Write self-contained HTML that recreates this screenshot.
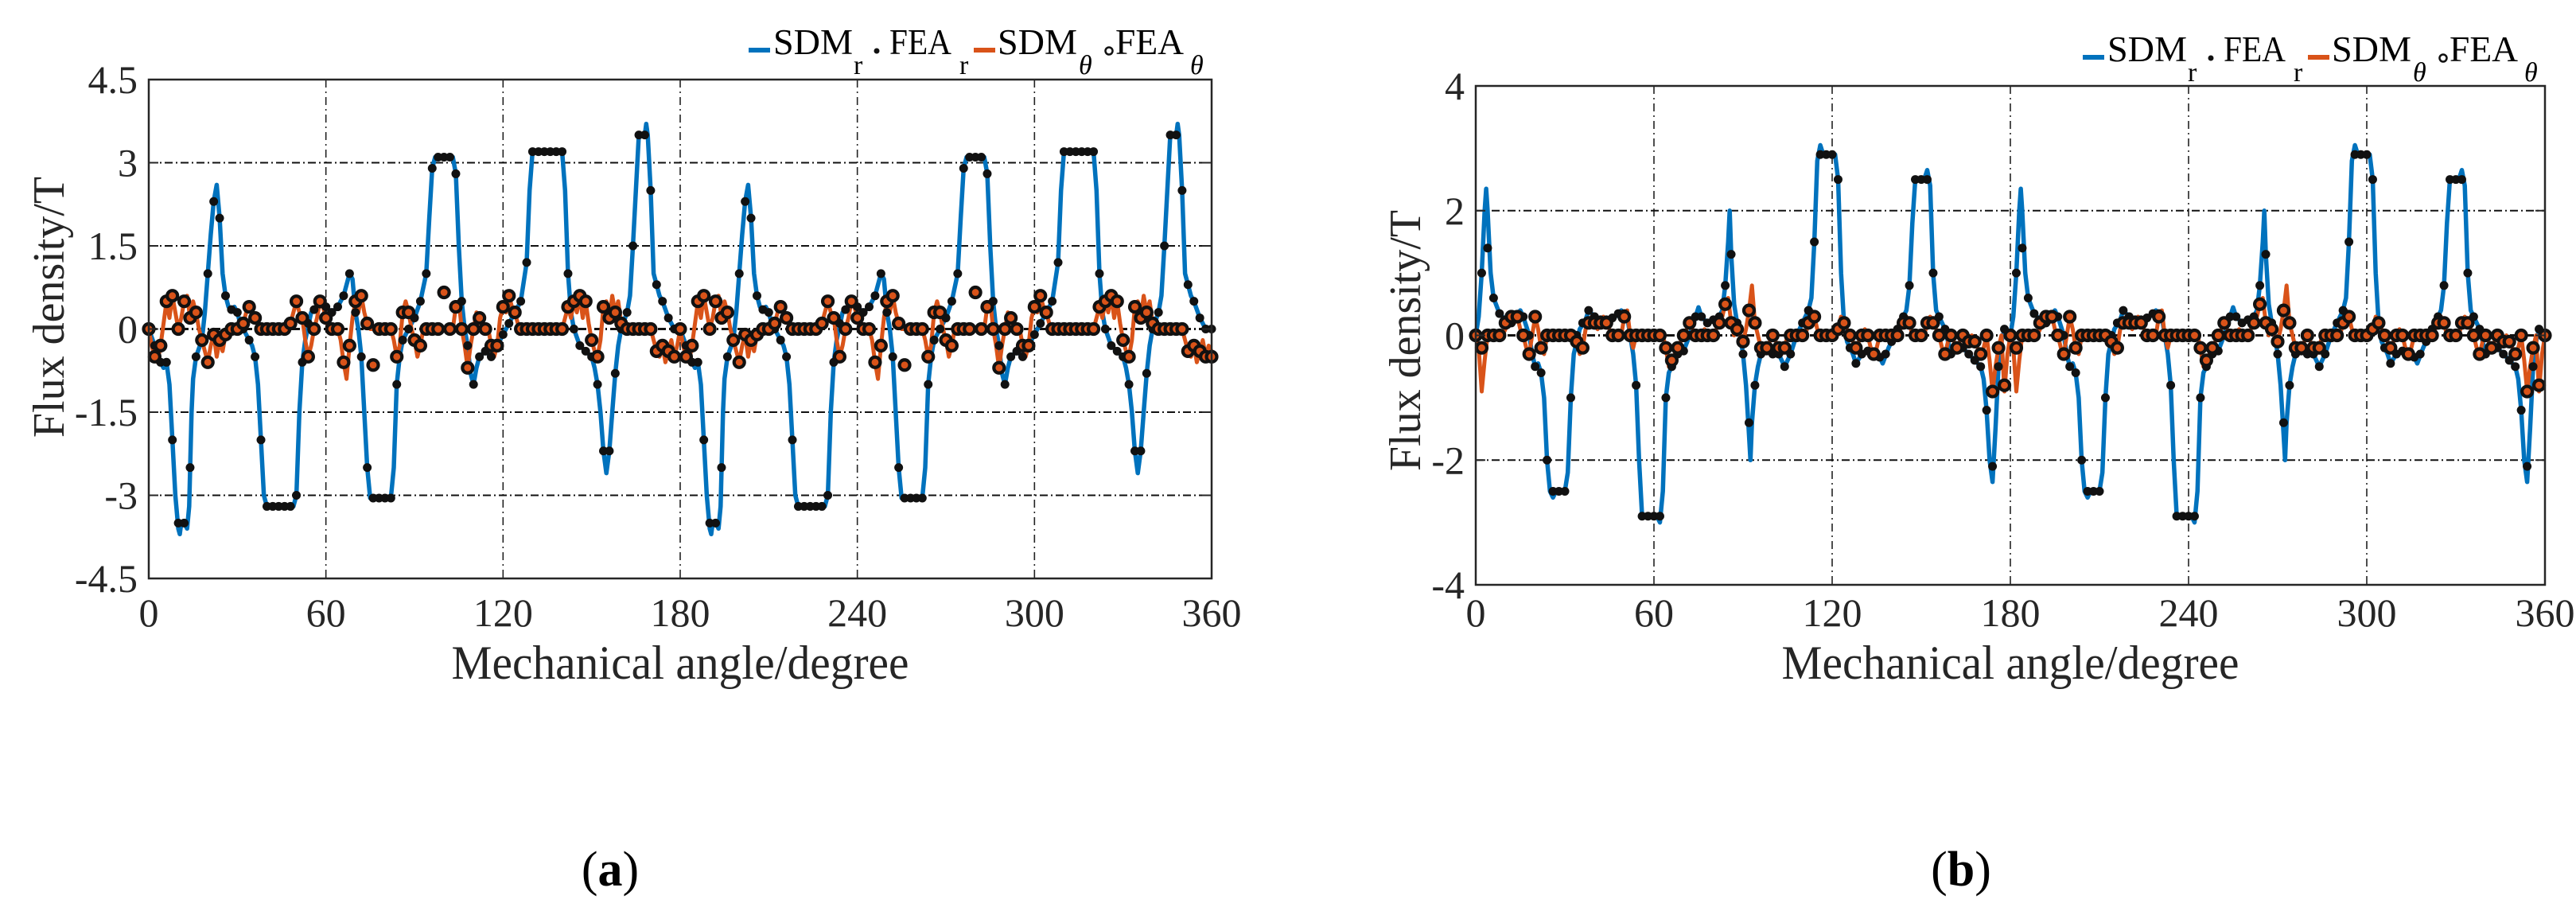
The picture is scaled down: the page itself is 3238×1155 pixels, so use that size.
<!DOCTYPE html>
<html><head><meta charset="utf-8">
<style>
html,body{margin:0;padding:0;background:#fff;}
svg{display:block;font-family:"Liberation Serif",serif;}
</style></head>
<body>
<svg id="fig" width="3238" height="1155" viewBox="0 0 3238 1155" xmlns="http://www.w3.org/2000/svg">
<rect x="0" y="0" width="3238" height="1155" fill="#fff"/>
</svg>
<script>
// ===== Panel (a) data =====
const aSdmRAngles = [0,2,4,5,6,7,8,9,10,10.5,11,12,13,13.7,14.5,15,16,18,19,20,21,22,23,24,25,26,27,28,29,30,31,32,33,35,36,37,38,39,40,49,50,51,52,53,55,57,59,60,62,64,66,68,69,70,71,72,73,74,75,82,83,84,85,86,88,90,92,94,95,96,97,103,104,105,106,107,108,109,110,111,112,114,116,118,120,122,124,126,128,129,130,140,141,142,143,144,146,148,150,151,152,153,154,155,156,157,158,159,160,162,163,164,165,166,168,168.5,169,170,171,172,173,174,176,178,
180,182,184,185,186,187,188,189,190,190.5,191,192,193,193.7,194.5,195,196,198,199,200,201,202,203,204,205,206,207,208,209,210,211,212,213,215,216,217,218,219,220,229,230,231,232,233,235,237,239,240,242,244,246,248,249,250,251,252,253,254,255,262,263,264,265,266,268,270,272,274,275,276,277,283,284,285,286,287,288,289,290,291,292,294,296,298,300,302,304,306,308,309,310,320,321,322,323,324,326,328,330,331,332,333,334,335,336,337,338,339,340,342,343,344,345,346,348,348.5,349,350,351,352,353,354,356,358,360];
const aSdmRValues = [0,-0.3,-0.6,-0.7,-0.6,-1.0,-2.0,-3.0,-3.6,-3.7,-3.5,-3.5,-3.6,-3.2,-1.5,-0.9,-0.5,-0.2,0.3,1.0,1.7,2.3,2.6,2.0,1.0,0.6,0.4,0.35,0.4,0.3,0.1,0,-0.1,-0.3,-0.5,-1.0,-2.0,-3.0,-3.2,-3.2,-3.0,-1.5,-0.6,-0.2,0.3,0.4,0.5,0.4,0.3,0.4,0.6,1.0,0.9,0.3,0,-0.5,-1.5,-2.5,-3.05,-3.05,-2.5,-1.0,-0.5,-0.2,0,0.2,0.5,1.0,2.0,2.9,3.1,3.1,2.8,1.5,0.5,0,-0.3,-0.8,-1.0,-0.7,-0.5,-0.4,-0.5,-0.3,-0.1,0.1,0.3,0.5,1.2,2.5,3.2,3.2,2.5,1.0,0.3,0,-0.3,-0.4,-0.5,-0.7,-1.0,-1.5,-2.2,-2.6,-2.2,-1.5,-0.8,-0.3,0,0.3,0.6,1.5,2.5,3.5,3.5,3.7,3.5,2.5,1.0,0.8,0.6,0.5,0.2,0,
0,-0.3,-0.6,-0.7,-0.6,-1.0,-2.0,-3.0,-3.6,-3.7,-3.5,-3.5,-3.6,-3.2,-1.5,-0.9,-0.5,-0.2,0.3,1.0,1.7,2.3,2.6,2.0,1.0,0.6,0.4,0.35,0.4,0.3,0.1,0,-0.1,-0.3,-0.5,-1.0,-2.0,-3.0,-3.2,-3.2,-3.0,-1.5,-0.6,-0.2,0.3,0.4,0.5,0.4,0.3,0.4,0.6,1.0,0.9,0.3,0,-0.5,-1.5,-2.5,-3.05,-3.05,-2.5,-1.0,-0.5,-0.2,0,0.2,0.5,1.0,2.0,2.9,3.1,3.1,2.8,1.5,0.5,0,-0.3,-0.8,-1.0,-0.7,-0.5,-0.4,-0.5,-0.3,-0.1,0.1,0.3,0.5,1.2,2.5,3.2,3.2,2.5,1.0,0.3,0,-0.3,-0.4,-0.5,-0.7,-1.0,-1.5,-2.2,-2.6,-2.2,-1.5,-0.8,-0.3,0,0.3,0.6,1.5,2.5,3.5,3.5,3.7,3.5,2.5,1.0,0.8,0.6,0.5,0.2,0,0];
const aFeaRStep = 2;
const aFeaRValues = [0,-0.3,-0.6,-0.6,-2.0,-3.5,-3.5,-2.5,-0.5,-0.2,1.0,2.3,2.0,0.6,0.35,0.3,0,-0.2,-0.5,-2.0,-3.2,-3.2,-3.2,-3.2,-3.2,-3.0,-0.6,0.1,0.35,0.45,0.4,0.3,0.4,0.6,1.0,0.3,-0.5,-2.5,-3.05,-3.05,-3.05,-3.05,-1.0,-0.2,0,0.2,0.5,1.0,2.9,3.1,3.1,3.1,2.8,0.5,-0.3,-1.0,-0.5,-0.4,-0.5,-0.3,-0.1,0.1,0.3,0.5,1.2,3.2,3.2,3.2,3.2,3.2,3.2,1.0,0,-0.3,-0.4,-0.5,-1.0,-2.2,-2.2,-0.8,0,0.3,1.5,3.5,3.5,2.5,0.8,0.5,0.2,0,
0,-0.3,-0.6,-0.6,-2.0,-3.5,-3.5,-2.5,-0.5,-0.2,1.0,2.3,2.0,0.6,0.35,0.3,0,-0.2,-0.5,-2.0,-3.2,-3.2,-3.2,-3.2,-3.2,-3.0,-0.6,0.1,0.35,0.45,0.4,0.3,0.4,0.6,1.0,0.3,-0.5,-2.5,-3.05,-3.05,-3.05,-3.05,-1.0,-0.2,0,0.2,0.5,1.0,2.9,3.1,3.1,3.1,2.8,0.5,-0.3,-1.0,-0.5,-0.4,-0.5,-0.3,-0.1,0.1,0.3,0.5,1.2,3.2,3.2,3.2,3.2,3.2,3.2,1.0,0,-0.3,-0.4,-0.5,-1.0,-2.2,-2.2,-0.8,0,0.3,1.5,3.5,3.5,2.5,0.8,0.5,0.2,0,0];
const aSdmTStep = 1;
const aSdmTValues = [0,-0.3,-0.5,-0.6,-0.3,0.1,0.5,0.2,0.6,0.3,0,0.2,0.5,0.6,0.2,0.5,0.3,0,-0.2,-0.4,-0.6,-0.3,-0.1,-0.5,-0.2,-0.4,-0.1,0,0,0,0,0,0.1,0.3,0.4,0.3,0.2,0.1,0,0,0,0,0,0,0,0,0,0,0.1,0.3,0.5,0.3,0.2,-0.2,-0.5,-0.3,0,0.2,0.5,0.4,0.2,0,0,0,0,-0.2,-0.6,-0.9,-0.3,0.2,0.5,0.3,0.6,0.3,0.1,0,0,0,0,0,0,0,0,-0.2,-0.5,-0.3,0.3,0.5,0.3,0,-0.2,-0.5,-0.3,0,0,0,0,0,0,0,0,0,0,0,0.4,0.5,0,-0.3,-0.7,-0.3,0,0.3,0.2,0,0,0,-0.3,-0.5,-0.3,0.2,0.4,0.3,0.6,0.4,0.3,0.1,0,0,0,0,0,0,0,0,0,0,0,0,0,0,0,0.2,0.4,0.2,0.5,0.3,0.6,0.2,0.5,0.1,-0.2,-0.4,-0.5,-0.2,0.4,0.5,0.2,0.6,0.3,0.5,0.1,0,0,0,0,0,0,0,0,0,0,-0.2,-0.4,-0.5,-0.3,-0.6,-0.4,-0.2,-0.5,-0.3,
0,-0.3,-0.5,-0.6,-0.3,0.1,0.5,0.2,0.6,0.3,0,0.2,0.5,0.6,0.2,0.5,0.3,0,-0.2,-0.4,-0.6,-0.3,-0.1,-0.5,-0.2,-0.4,-0.1,0,0,0,0,0,0.1,0.3,0.4,0.3,0.2,0.1,0,0,0,0,0,0,0,0,0,0,0.1,0.3,0.5,0.3,0.2,-0.2,-0.5,-0.3,0,0.2,0.5,0.4,0.2,0,0,0,0,-0.2,-0.6,-0.9,-0.3,0.2,0.5,0.3,0.6,0.3,0.1,0,0,0,0,0,0,0,0,-0.2,-0.5,-0.3,0.3,0.5,0.3,0,-0.2,-0.5,-0.3,0,0,0,0,0,0,0,0,0,0,0,0.4,0.5,0,-0.3,-0.7,-0.3,0,0.3,0.2,0,0,0,-0.3,-0.5,-0.3,0.2,0.4,0.3,0.6,0.4,0.3,0.1,0,0,0,0,0,0,0,0,0,0,0,0,0,0,0,0.2,0.4,0.2,0.5,0.3,0.6,0.2,0.5,0.1,-0.2,-0.4,-0.5,-0.2,0.4,0.5,0.2,0.6,0.3,0.5,0.1,0,0,0,0,0,0,0,0,0,0,-0.2,-0.4,-0.5,-0.3,-0.6,-0.4,-0.2,-0.5,-0.3,-0.4];
const aFeaTStep = 2;
const aFeaTValues = [0,-0.5,-0.3,0.5,0.6,0,0.5,0.2,0.3,-0.2,-0.6,-0.1,-0.2,-0.1,0,0,0.1,0.4,0.2,0,0,0,0,0,0.1,0.5,0.2,-0.5,0,0.5,0.2,0,0,-0.6,-0.3,0.5,0.6,0.1,-0.65,0,0,0,-0.5,0.3,0.3,-0.2,-0.3,0,0,0,0.66,0,0.4,0,-0.7,0,0.2,0,-0.3,-0.3,0.4,0.6,0.3,0,0,0,0,0,0,0,0,0.4,0.5,0.6,0.5,-0.2,-0.5,0.4,0.2,0.3,0.1,0,0,0,0,0,-0.4,-0.3,-0.4,-0.5,
0,-0.5,-0.3,0.5,0.6,0,0.5,0.2,0.3,-0.2,-0.6,-0.1,-0.2,-0.1,0,0,0.1,0.4,0.2,0,0,0,0,0,0.1,0.5,0.2,-0.5,0,0.5,0.2,0,0,-0.6,-0.3,0.5,0.6,0.1,-0.65,0,0,0,-0.5,0.3,0.3,-0.2,-0.3,0,0,0,0.66,0,0.4,0,-0.7,0,0.2,0,-0.3,-0.3,0.4,0.6,0.3,0,0,0,0,0,0,0,0,0.4,0.5,0.6,0.5,-0.2,-0.5,0.4,0.2,0.3,0.1,0,0,0,0,0,-0.4,-0.3,-0.4,-0.5,-0.5];
const aYTicks = [-4.5,-3,-1.5,0,1.5,3,4.5];
const aYTickLabels = ["-4.5","-3","-1.5","0","1.5","3","4.5"];

// ===== Panel (b) data =====
const bSdmRAngles = [0,1,2,3,3.5,4,5,6,8,10,12,14,15,16,18,19,20,21,22,23,24,25,26,27,30,31,32,33,35,37,38,39,41,44,47,49,51,52,53,54,55,56,58,61,62,63,64,65,66,68,70,72,74,75,76,78,80,82,83,84,85,85.5,86,87,88,89,90,91,92,92.5,93,94,95,96,98,100,102,104,106,108,110,112,113,114,115,116,117,121,122,123,124,125,127,128,130,132,134,136,137,139,141,143,145,146,147,148,151,152,153,154,155,156,158,159,160,162,164,166,168,170,171,172,173,174,175,176,177,178,
180,181,182,183,183.5,184,185,186,188,190,192,194,195,196,198,199,200,201,202,203,204,205,206,207,210,211,212,213,215,217,218,219,221,224,227,229,231,232,233,234,235,236,238,241,242,243,244,245,246,248,250,252,254,255,256,258,260,262,263,264,265,265.5,266,267,268,269,270,271,272,272.5,273,274,275,276,278,280,282,284,286,288,290,292,293,294,295,296,297,301,302,303,304,305,307,308,310,312,314,316,317,319,321,323,325,326,327,328,331,332,333,334,335,336,338,339,340,342,344,346,348,350,351,352,353,354,355,356,357,358,360];
const bSdmRValues = [0,0.3,1.0,2.0,2.35,2.0,1.0,0.6,0.35,0.25,0.2,0.3,0.4,0.3,0,-0.3,-0.5,-0.45,-0.6,-1.0,-2.0,-2.5,-2.6,-2.5,-2.5,-2.2,-1.0,-0.3,0.1,0.25,0.4,0.35,0.25,0.25,0.3,0.4,0.3,0,-0.3,-0.8,-2.0,-2.9,-2.9,-2.9,-3.0,-2.5,-1.0,-0.6,-0.5,-0.3,-0.25,0,0.3,0.45,0.3,0.2,0.25,0.3,0.4,0.8,1.5,2.0,1.3,0.5,0.2,0,-0.3,-0.8,-1.6,-2.0,-1.4,-0.8,-0.5,-0.3,-0.25,-0.3,-0.3,-0.5,-0.3,0,0.2,0.4,0.6,1.5,2.8,3.05,2.9,2.9,2.5,1.0,0.2,-0.1,-0.3,-0.45,-0.3,-0.25,-0.3,-0.35,-0.45,-0.2,0,0.2,0.4,0.8,1.8,2.5,2.5,2.65,2.4,1.0,0.4,0.3,0.1,-0.1,-0.3,-0.2,-0.2,-0.3,-0.4,-0.5,-0.7,-1.2,-2.0,-2.35,-1.5,-0.5,-0.1,0.1,
0,0.3,1.0,2.0,2.35,2.0,1.0,0.6,0.35,0.25,0.2,0.3,0.4,0.3,0,-0.3,-0.5,-0.45,-0.6,-1.0,-2.0,-2.5,-2.6,-2.5,-2.5,-2.2,-1.0,-0.3,0.1,0.25,0.4,0.35,0.25,0.25,0.3,0.4,0.3,0,-0.3,-0.8,-2.0,-2.9,-2.9,-2.9,-3.0,-2.5,-1.0,-0.6,-0.5,-0.3,-0.25,0,0.3,0.45,0.3,0.2,0.25,0.3,0.4,0.8,1.5,2.0,1.3,0.5,0.2,0,-0.3,-0.8,-1.6,-2.0,-1.4,-0.8,-0.5,-0.3,-0.25,-0.3,-0.3,-0.5,-0.3,0,0.2,0.4,0.6,1.5,2.8,3.05,2.9,2.9,2.5,1.0,0.2,-0.1,-0.3,-0.45,-0.3,-0.25,-0.3,-0.35,-0.45,-0.2,0,0.2,0.4,0.8,1.8,2.5,2.5,2.65,2.4,1.0,0.4,0.3,0.1,-0.1,-0.3,-0.2,-0.2,-0.3,-0.4,-0.5,-0.7,-1.2,-2.0,-2.35,-1.5,-0.5,-0.1,0.1,0];
const bFeaRStep = 2;
const bFeaRValues = [0,1.0,1.4,0.6,0.35,0.25,0.2,0.3,0.3,0,-0.5,-0.6,-2.0,-2.5,-2.5,-2.5,-1.0,0,0.2,0.4,0.3,0.25,0.25,0.28,0.35,0.35,0,-0.8,-2.9,-2.9,-2.9,-2.9,-1.0,-0.5,-0.3,-0.25,0,0.3,0.3,0.2,0.25,0.3,0.8,1.3,0.2,-0.3,-1.4,-0.8,-0.3,-0.25,-0.3,-0.3,-0.5,-0.3,0,0.2,0.4,1.5,2.9,2.9,2.9,2.5,0.2,-0.2,-0.45,-0.3,-0.25,-0.3,-0.35,-0.3,-0.1,0.1,0.3,0.8,2.5,2.5,2.5,1.0,0.3,0.1,-0.3,-0.2,-0.2,-0.3,-0.4,-0.5,-1.2,-2.1,-0.5,0.1,
0,1.0,1.4,0.6,0.35,0.25,0.2,0.3,0.3,0,-0.5,-0.6,-2.0,-2.5,-2.5,-2.5,-1.0,0,0.2,0.4,0.3,0.25,0.25,0.28,0.35,0.35,0,-0.8,-2.9,-2.9,-2.9,-2.9,-1.0,-0.5,-0.3,-0.25,0,0.3,0.3,0.2,0.25,0.3,0.8,1.3,0.2,-0.3,-1.4,-0.8,-0.3,-0.25,-0.3,-0.3,-0.5,-0.3,0,0.2,0.4,1.5,2.9,2.9,2.9,2.5,0.2,-0.2,-0.45,-0.3,-0.25,-0.3,-0.35,-0.3,-0.1,0.1,0.3,0.8,2.5,2.5,2.5,1.0,0.3,0.1,-0.3,-0.2,-0.2,-0.3,-0.4,-0.5,-1.2,-2.1,-0.5,0.1,0];
const bSdmTStep = 1;
const bSdmTValues = [0,-0.2,-0.9,-0.4,0,0,0,0,0,0,0.1,0.2,0.3,0.2,0.3,0.1,0,-0.2,-0.3,0,0.3,0.1,-0.2,-0.3,0,0,0,0,0,0,0,0,0,0,-0.1,-0.3,-0.2,0.1,0.2,0.3,0.2,0.1,0.2,0.3,0.2,0.1,0,0,0,0,0.3,0.4,0,-0.2,0,0,0,0,0,0,0,0,0,0,-0.2,-0.5,-0.4,-0.3,-0.2,-0.1,0,0.1,0.2,0.1,0,0,0,0.1,0,0,0,0.1,0.2,0.3,0.5,0.6,0.2,0,0.1,0,-0.1,0.1,0.4,0.8,0.2,0,-0.2,-0.3,-0.2,-0.1,0,-0.1,-0.2,-0.3,-0.2,0,0,0,0,0,0,0,0.2,0.4,0.3,0.1,0,0,0,0,0,0,0.1,0.3,0.2,0.1,0,-0.1,-0.2,-0.1,0,0.1,0,-0.2,-0.3,-0.2,0,0,0,0,0,0,0,0.1,0.2,0.3,0.2,0,0,0,0,0,0.2,0.3,0.2,0.1,0,-0.2,-0.3,-0.1,0,-0.1,-0.2,-0.1,0,0,-0.1,0,-0.1,-0.2,-0.3,-0.2,0,-0.4,-0.9,-0.5,-0.2,0,-0.9,-0.3,
0,-0.2,-0.9,-0.4,0,0,0,0,0,0,0.1,0.2,0.3,0.2,0.3,0.1,0,-0.2,-0.3,0,0.3,0.1,-0.2,-0.3,0,0,0,0,0,0,0,0,0,0,-0.1,-0.3,-0.2,0.1,0.2,0.3,0.2,0.1,0.2,0.3,0.2,0.1,0,0,0,0,0.3,0.4,0,-0.2,0,0,0,0,0,0,0,0,0,0,-0.2,-0.5,-0.4,-0.3,-0.2,-0.1,0,0.1,0.2,0.1,0,0,0,0.1,0,0,0,0.1,0.2,0.3,0.5,0.6,0.2,0,0.1,0,-0.1,0.1,0.4,0.8,0.2,0,-0.2,-0.3,-0.2,-0.1,0,-0.1,-0.2,-0.3,-0.2,0,0,0,0,0,0,0,0.2,0.4,0.3,0.1,0,0,0,0,0,0,0.1,0.3,0.2,0.1,0,-0.1,-0.2,-0.1,0,0.1,0,-0.2,-0.3,-0.2,0,0,0,0,0,0,0,0.1,0.2,0.3,0.2,0,0,0,0,0,0.2,0.3,0.2,0.1,0,-0.2,-0.3,-0.1,0,-0.1,-0.2,-0.1,0,0,-0.1,0,-0.1,-0.2,-0.3,-0.2,0,-0.4,-0.9,-0.5,-0.2,0,-0.9,-0.3,0];
const bFeaTStep = 2;
const bFeaTValues = [0,-0.2,0,0,0,0.2,0.3,0.3,0,-0.3,0.3,-0.2,0,0,0,0,0,-0.1,-0.2,0.2,0.2,0.2,0.2,0,0,0.3,0,0,0,0,0,0,-0.2,-0.4,-0.2,0,0.2,0,0,0,0,0.2,0.5,0.2,0.1,-0.1,0.4,0.2,-0.2,-0.2,0,-0.2,-0.2,0,0,0,0.2,0.3,0,0,0,0.1,0.2,0,-0.2,0,0,-0.3,0,0,0,0,0.2,0.2,0,0,0.2,0.2,0,-0.3,0,-0.2,0,-0.1,-0.1,-0.3,0,-0.9,-0.2,-0.8,
0,-0.2,0,0,0,0.2,0.3,0.3,0,-0.3,0.3,-0.2,0,0,0,0,0,-0.1,-0.2,0.2,0.2,0.2,0.2,0,0,0.3,0,0,0,0,0,0,-0.2,-0.4,-0.2,0,0.2,0,0,0,0,0.2,0.5,0.2,0.1,-0.1,0.4,0.2,-0.2,-0.2,0,-0.2,-0.2,0,0,0,0.2,0.3,0,0,0,0.1,0.2,0,-0.2,0,0,-0.3,0,0,0,0,0.2,0.2,0,0,0.2,0.2,0,-0.3,0,-0.2,0,-0.1,-0.1,-0.3,0,-0.9,-0.2,-0.8,0];
const bYTicks = [-4,-2,0,2,4];
const bYTickLabels = ["-4","-2","0","2","4"];

const xTicks = [0,60,120,180,240,300,360];
const xTickLabels = ["0","60","120","180","240","300","360"];

const NS = "http://www.w3.org/2000/svg";
const fig = document.getElementById("fig");
const BLUE = "#0072bd", ORANGE = "#d95319", INK = "#262626";

function mk(tag, attrs, parent) {
  const e = document.createElementNS(NS, tag);
  for (const k in attrs) e.setAttribute(k, attrs[k]);
  (parent || fig).appendChild(e);
  return e;
}

function drawPanel(p) {
  const g = mk("g", {});
  
  
  const sx = a => p.x0 + (a - 0) / 360 * (p.x1 - p.x0);
  const sy = v => p.y1 - (v - p.ymin) / (p.ymax - p.ymin) * (p.y1 - p.y0);

  const grid = mk("g", {}, g);
  
  
  xTicks.forEach((t, i) => {
    if (i === 0 || i === xTicks.length - 1) return;
    const l = mk("line", {x1: sx(t), x2: sx(t), y1: p.y0, y2: p.y1, stroke: "#222", "stroke-width": 1.6, "stroke-dasharray": "10,5,2,5"}, grid);
    
    
  });
  p.yTicks.forEach((t, i) => {
    if (i === 0 || i === p.yTicks.length - 1) return;
    const l = mk("line", {x1: p.x0, x2: p.x1, y1: sy(t), y2: sy(t), stroke: "#111", "stroke-width": t === 0 ? 3 : 2, "stroke-dasharray": "10,4,2,4"}, grid);
    
    
  });

  let d = "";
  p.sdmRA.forEach((a, i) => { d += (i ? "L" : "M") + sx(a).toFixed(1) + "," + sy(p.sdmRV[i]).toFixed(1); });
  const lr = mk("path", {d: d, fill: "none", stroke: BLUE, "stroke-width": 5.5, "stroke-linejoin": "round"}, g);
  
  

  d = "";
  p.sdmTV.forEach((v, i) => { d += (i ? "L" : "M") + sx(i * p.sdmTStep).toFixed(1) + "," + sy(v).toFixed(1); });
  const lt = mk("path", {d: d, fill: "none", stroke: ORANGE, "stroke-width": 5, "stroke-linejoin": "round"}, g);
  
  

  const gr = mk("g", {}, g);
  
  
  p.feaRV.forEach((v, i) => {
    const c = mk("circle", {cx: sx(i * p.feaRStep), cy: sy(v), r: 5.5, fill: "#111"}, gr);
    
    
  });
  const gt = mk("g", {}, g);
  
  
  p.feaTV.forEach((v, i) => {
    const c = mk("circle", {cx: sx(i * p.feaTStep), cy: sy(v), r: 6.5, fill: ORANGE, stroke: "#111", "stroke-width": 4.2}, gt);
    
    
  });

  const box = mk("rect", {x: p.x0, y: p.y0, width: p.x1 - p.x0, height: p.y1 - p.y0, fill: "none", stroke: INK, "stroke-width": 2.5}, g);
  
  

  p.yTicks.forEach((t, i) => {
    const tk = mk("line", {x1: p.x0, x2: p.x0 + 12, y1: sy(t), y2: sy(t), stroke: INK, "stroke-width": 2}, g);
    
    
    const tk2 = mk("line", {x1: p.x1, x2: p.x1 - 12, y1: sy(t), y2: sy(t), stroke: INK, "stroke-width": 2}, g);
    
    
    const tx = mk("text", {x: p.x0 - 14, y: sy(t) + 17, "text-anchor": "end", "font-size": 50, fill: INK}, g);
    tx.textContent = p.yLabels[i];
    
    
  });
  xTicks.forEach((t, i) => {
    const tx = mk("text", {x: sx(t), y: 787, "text-anchor": "middle", "font-size": 50, fill: INK}, g);
    tx.textContent = xTickLabels[i];
    
    
  });

  const xt = mk("text", {x: p.xTitleX, y: 853, "text-anchor": "middle", "font-size": 60, fill: INK, textLength: 575, lengthAdjust: "spacingAndGlyphs"}, g);
  xt.textContent = "Mechanical angle/degree";
  
  
  const yt = mk("text", {x: 0, y: 0, "text-anchor": "middle", "font-size": 56, fill: INK, transform: "translate(" + p.yTitleX + "," + p.yTitleY + ") rotate(-90)"}, g);
  yt.textContent = "Flux density/T";
  
  

  const cap = mk("text", {x: p.capX, y: 1113, "text-anchor": "middle", "font-size": 62, fill: "#000"}, g);
  
  
  const t1 = mk("tspan", {}, cap); t1.textContent = "(";
  const t2 = mk("tspan", {"font-weight": "bold"}, cap); t2.textContent = p.id === "panel-a" ? "a" : "b";
  const t3 = mk("tspan", {}, cap); t3.textContent = ")";

  const lg = mk("g", {transform: "translate(" + p.legDX + "," + p.legDY + ")"}, g);
  
  
  const e1 = mk("rect", {x: 941, y: 60, width: 27, height: 6, fill: BLUE}, lg);
  
  
  const e2 = mk("circle", {cx: 1102, cy: 64, r: 3.5, fill: "#111"}, lg);
  
  
  const e3 = mk("rect", {x: 1224, y: 60, width: 27, height: 6, fill: ORANGE}, lg);
  
  
  const e4 = mk("circle", {cx: 1394, cy: 64, r: 4.5, fill: "#fff", stroke: "#111", "stroke-width": 2.5}, lg);
  
  
  const labels = [["SDM", 972, 100, "r", 1073], ["FEA", 1118, 78, "r", 1206], ["SDM", 1254, 100, "θ", 1356], ["FEA", 1402, 86, "θ", 1496]];
  labels.forEach(L => {
    const t = mk("text", {x: L[1], y: 68, "font-size": 45, fill: "#000", textLength: L[2], lengthAdjust: "spacingAndGlyphs"}, lg);
    t.textContent = L[0];
    
    
    const s = mk("text", {x: L[4], y: 93, "font-size": 34, fill: "#000", "font-style": L[3] === "θ" ? "italic" : "normal"}, lg);
    s.textContent = L[3];
    
    
  });
}

drawPanel({id: "panel-a", x0: 187, x1: 1523, y0: 100, y1: 727, ymin: -4.5, ymax: 4.5,
  yTicks: aYTicks, yLabels: aYTickLabels,
  sdmRA: aSdmRAngles, sdmRV: aSdmRValues, sdmTV: aSdmTValues, sdmTStep: aSdmTStep,
  feaRV: aFeaRValues, feaRStep: aFeaRStep, feaTV: aFeaTValues, feaTStep: aFeaTStep,
  xTitleX: 855, yTitleX: 80, yTitleY: 386, capX: 767, legDX: 0, legDY: 0});
drawPanel({id: "panel-b", x0: 1855, x1: 3199, y0: 108, y1: 735, ymin: -4, ymax: 4,
  yTicks: bYTicks, yLabels: bYTickLabels,
  sdmRA: bSdmRAngles, sdmRV: bSdmRValues, sdmTV: bSdmTValues, sdmTStep: bSdmTStep,
  feaRV: bFeaRValues, feaRStep: bFeaRStep, feaTV: bFeaTValues, feaTStep: bFeaTStep,
  xTitleX: 2527, yTitleX: 1785, yTitleY: 428, capX: 2465, legDX: 1677, legDY: 9});
</script>
</body></html>
